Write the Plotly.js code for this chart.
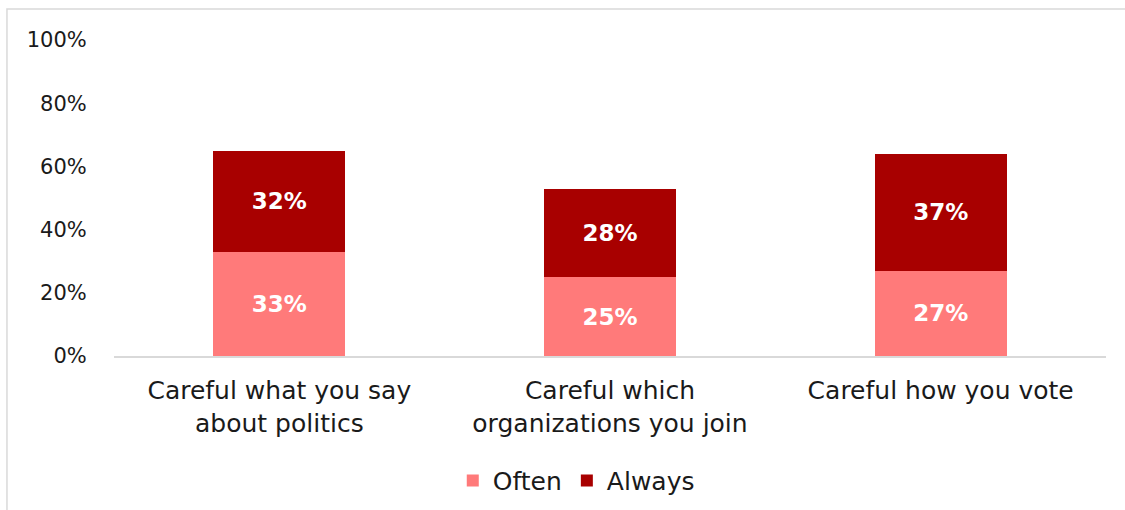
<!DOCTYPE html>
<html>
<head>
<meta charset="utf-8">
<script src="https://cdn.plot.ly/plotly-3.0.1.min.js"></script>
<style>
  html, body { margin: 0; padding: 0; background: #ffffff; }
  #chart { width: 1125px; height: 510px; }
</style>
</head>
<body>
<div id="chart"></div>
<script>
const categories = [
  "Careful what you say<br>about politics",
  "Careful which<br>organizations you join",
  "Careful how you vote"
];
const oftenValues = [33, 25, 27];
const alwaysValues = [32, 28, 37];
const yTickValues = [0, 20, 40, 60, 80, 100];
const yTickLabels = ["0%", "20%", "40%", "60%", "80%", "100%"];
const seriesNames = ["Often", "Always"];

const FONT = "'DejaVu Sans', 'Liberation Sans', sans-serif";
const colors = ["#FF7A7A", "#A80000"];

function makeTrace(name, values, color) {
  return {
    type: "bar",
    name: name,
    x: categories,
    y: values,
    text: values.map(v => v + "%"),
    textposition: "inside",
    insidetextanchor: "middle",
    textangle: 0,
    constraintext: "none",
    textfont: { family: FONT, size: 23, color: "#ffffff", weight: "bold" },
    marker: { color: color, line: { width: 0 } },
    hoverinfo: "skip"
  };
}

const data = [
  makeTrace(seriesNames[0], oftenValues, colors[0]),
  makeTrace(seriesNames[1], alwaysValues, colors[1])
];

const layout = {
  width: 1125,
  height: 510,
  margin: { l: 114, r: 19, t: 40, b: 154, autoexpand: false },
  paper_bgcolor: "#ffffff",
  plot_bgcolor: "#ffffff",
  barmode: "stack",
  bargap: 0.6,
  font: { family: FONT, color: "#1a1a1a" },
  showlegend: true,
  legend: {
    orientation: "h",
    x: 0.466,
    xanchor: "center",
    y: -0.395,
    yanchor: "middle",
    font: { family: FONT, size: 25, color: "#1a1a1a" },
    traceorder: "normal",
    itemsizing: "constant"
  },
  xaxis: {
    type: "category",
    automargin: false,
    showgrid: false,
    zeroline: false,
    showline: true,
    linecolor: "#d9d9d9",
    linewidth: 2,
    ticks: "outside",
    ticklen: 11,
    tickcolor: "rgba(0,0,0,0)",
    tickfont: { family: FONT, size: 25, color: "#1a1a1a" },
    fixedrange: true
  },
  yaxis: {
    range: [0, 100],
    automargin: false,
    tickvals: yTickValues,
    ticktext: yTickLabels,
    showgrid: false,
    zeroline: false,
    showline: false,
    ticks: "outside",
    ticklen: 22,
    tickcolor: "rgba(0,0,0,0)",
    tickfont: { family: FONT, size: 21, color: "#1a1a1a" },
    fixedrange: true
  },
  shapes: [
    {
      type: "rect",
      xref: "paper", yref: "paper",
      x0: -0.1079, x1: 1.2,
      y0: -0.7, y1: 1.098,
      line: { color: "#d9d9d9", width: 1.5 },
      fillcolor: "rgba(0,0,0,0)",
      layer: "below"
    }
  ]
};

Plotly.newPlot("chart", data, layout, { displayModeBar: false, staticPlot: true });
</script>
</body>
</html>
